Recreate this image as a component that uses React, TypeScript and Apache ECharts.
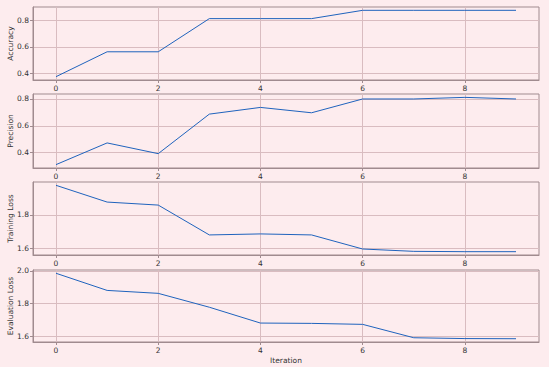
import React, { useEffect, useRef } from "react";
import * as echarts from "echarts";

const iterations = [0, 1, 2, 3, 4, 5, 6, 7, 8, 9];
const accuracy = [0.375, 0.5625, 0.5625, 0.8125, 0.8125, 0.8125, 0.875, 0.875, 0.875, 0.875];
const precision = [0.31, 0.472, 0.392, 0.687, 0.737, 0.697, 0.8, 0.8, 0.812, 0.8];
const trainingLoss = [1.976, 1.876, 1.858, 1.68, 1.686, 1.68, 1.596, 1.582, 1.58, 1.58];
const evaluationLoss = [1.985, 1.88, 1.862, 1.777, 1.68, 1.678, 1.672, 1.59, 1.585, 1.584];
const xTicks = [0, 2, 4, 6, 8];
const yTicks = [
  [0.4, 0.6, 0.8],
  [0.4, 0.6, 0.8],
  [1.6, 1.8],
  [1.6, 1.8, 2.0],
];
const yNames = ["Accuracy", "Precision", "Training Loss", "Evaluation Loss"];
const seriesList = [accuracy, precision, trainingLoss, evaluationLoss];

const BG = "#fdecee";
const FRAME = "#a08b8f";
const GRID = "#d9bcc0";
const LINE = "#1f63bd";
const TXT = "#333333";
const FONT = "DejaVu Sans";

export default function App() {
  const ref = useRef<HTMLDivElement>(null);
  useEffect(() => {
    const chart = echarts.init(ref.current!, null, { renderer: "svg" });
    const tops = [7, 94, 182, 270];
    const heights = [73, 74, 73, 72];
    const grids = tops.map((t, i) => ({
      left: 33,
      right: 10,
      top: t,
      height: heights[i],
      containLabel: false,
      outerBoundsMode: "none",
      show: true,
      backgroundColor: BG,
      borderColor: FRAME,
      borderWidth: 1,
    }));
    const pad = (arr: number[]) => {
      const mn = Math.min(...arr);
      const mx = Math.max(...arr);
      const m = (mx - mn) * 0.05;
      return [mn - m, mx + m];
    };
    const xAxes = grids.map((_, i) => ({
      type: "value",
      gridIndex: i,
      min: -0.45,
      max: 9.45,
      name: i === 3 ? "Iteration" : "",
      nameLocation: "middle",
      nameGap: 14,
      nameMoveOverlap: false,
      nameTextStyle: { color: TXT, fontSize: 7.5, fontFamily: FONT },
      axisLine: { show: true, onZero: false, lineStyle: { color: FRAME, width: 1 } },
      axisTick: { show: true, customValues: xTicks, length: 3, lineStyle: { color: FRAME } },
      axisLabel: { show: true, customValues: xTicks, color: TXT, fontSize: 7.5, fontFamily: FONT, margin: 4 },
      splitLine: { show: true, lineStyle: { color: GRID, width: 1 } },
    }));
    const yAxes = grids.map((_, i) => {
      const [mn, mx] = pad(seriesList[i]);
      return {
        type: "value",
        gridIndex: i,
        min: mn,
        max: mx,
        name: yNames[i],
        nameLocation: "middle",
        nameGap: 19,
        nameRotate: 90,
        nameMoveOverlap: false,
        nameTextStyle: { color: TXT, fontSize: 7.5, fontFamily: FONT },
        axisLine: { show: true, onZero: false, lineStyle: { color: FRAME, width: 1 } },
        axisTick: { show: true, customValues: yTicks[i], length: 3, lineStyle: { color: FRAME } },
        axisLabel: {
          show: true,
          customValues: yTicks[i],
          color: TXT,
          fontSize: 7.5,
          fontFamily: FONT,
          margin: 4,
          formatter: (v: number) => v.toFixed(1),
        },
        splitLine: { show: true, lineStyle: { color: GRID, width: 1 } },
      };
    });
    const series = seriesList.map((vals, i) => ({
      type: "line",
      xAxisIndex: i,
      yAxisIndex: i,
      data: iterations.map((it, j) => [it, vals[j]]),
      showSymbol: false,
      symbol: "none",
      lineStyle: { color: LINE, width: 1 },
    }));
    chart.setOption({
      animation: false,
      backgroundColor: BG,
      grid: grids,
      xAxis: xAxes,
      yAxis: yAxes,
      series,
    });
    return () => chart.dispose();
  }, []);
  return (
    <div
      ref={ref}
      style={{ width: 549, height: 367, position: "absolute", left: 0, top: 0 }}
    />
  );
}
